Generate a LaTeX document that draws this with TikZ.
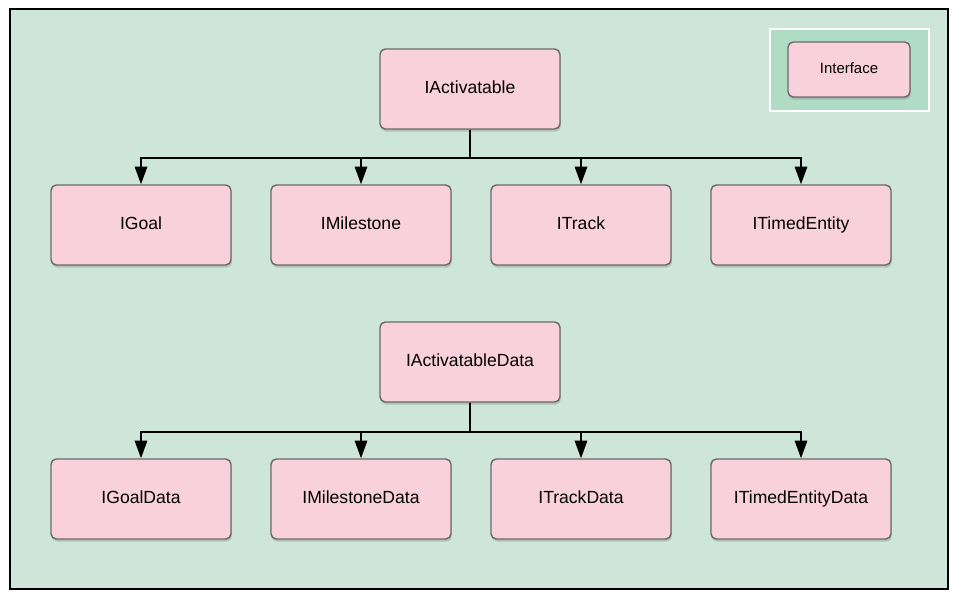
\documentclass[tikz,border=0pt]{standalone}
\usepackage{fontspec}
\setmainfont{Liberation Sans}
\usetikzlibrary{arrows.meta,shadows}
\definecolor{bggreen}{RGB}{205,230,217}
\definecolor{keygreen}{RGB}{176,219,196}
\definecolor{ifpink}{RGB}{249,209,220}
\definecolor{ifedge}{RGB}{105,105,105}

\tikzset{
  iface/.style={draw=ifedge, line width=0.8pt, fill=ifpink, rounded corners=3pt,
    minimum width=3.6cm, minimum height=1.6cm, font=\fontsize{10}{12}\selectfont,
    text height=1.5ex, text depth=0.6ex,
    drop shadow={shadow xshift=0.5pt, shadow yshift=-1.5pt, opacity=0.35}},
  link/.style={line width=1.1pt, -{Triangle[length=10pt,width=7pt]}}
}

\begin{document}
\begin{tikzpicture}[x=0.02cm, y=-0.02cm]
        \useasboundingbox (0,0) rectangle (961,601);
        \draw[line width=1.2pt, fill=bggreen] (10,9) rectangle (948,589);
        \draw[white, line width=1pt, fill=keygreen] (770,29) rectangle (929,111);
        \node[iface, minimum width=2.44cm, minimum height=1.1cm, font=\fontsize{8.5}{10}\selectfont] (key) at (849,69.5) {Interface};

        \node[iface] (act) at (470,89) {IActivatable};
        \node[iface] (goal) at (141,225) {IGoal};
        \node[iface] (mile) at (361,225) {IMilestone};
        \node[iface] (track) at (581,225) {ITrack};
        \node[iface] (timed) at (801,225) {ITimedEntity};

        \draw[link] (act.south) -- ++(0,28) -| (goal.north);
        \draw[link] (act.south) -- ++(0,28) -| (mile.north);
        \draw[link] (act.south) -- ++(0,28) -| (track.north);
        \draw[link] (act.south) -- ++(0,28) -| (timed.north);

        \node[iface] (actdata) at (470,362) {IActivatableData};
        \node[iface] (goaldata) at (141,499) {IGoalData};
        \node[iface] (miledata) at (361,499) {IMilestoneData};
        \node[iface] (trackdata) at (581,499) {ITrackData};
        \node[iface] (timeddata) at (801,499) {ITimedEntityData};

        \draw[link] (actdata.south) -- ++(0,29) -| (goaldata.north);
        \draw[link] (actdata.south) -- ++(0,29) -| (miledata.north);
        \draw[link] (actdata.south) -- ++(0,29) -| (trackdata.north);
        \draw[link] (actdata.south) -- ++(0,29) -| (timeddata.north);
\end{tikzpicture}
\end{document}
